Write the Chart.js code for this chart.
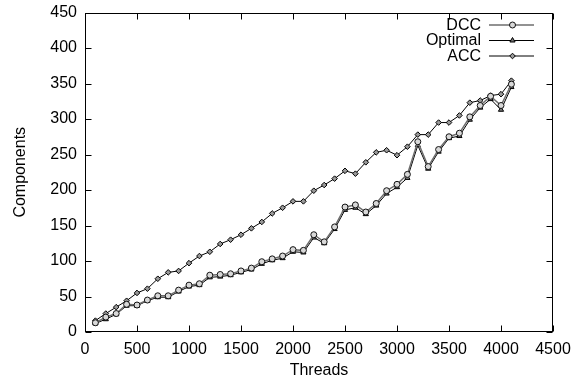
<!DOCTYPE html>
<html>
<head>
<meta charset="utf-8">
<script src="https://cdn.jsdelivr.net/npm/chart.js@4/dist/chart.umd.min.js"></script>
<style>
html,body{margin:0;padding:0;background:#fff;}
#c{display:block;}
</style>
</head>
<body>
<canvas id="c" width="587" height="384"></canvas>
<script>
const threads = [100,200,300,400,500,600,700,800,900,1000,1100,1200,1300,1400,1500,1600,1700,1800,1900,2000,2100,2200,2300,2400,2500,2600,2700,2800,2900,3000,3100,3200,3300,3400,3500,3600,3700,3800,3900,4000,4100];
const dccValues = [13,21,26,39,38,45,51,51,59,66,68,80,81,82,86,90,99,103,107,116,115,137,127,148,176,179,169,181,199,208,222,268,233,257,275,280,303,319,332,319,349];
const optimalValues = [12,18,25,37,37,44,49,49,57,64,66,77,78,80,84,88,96,101,104,113,112,133,125,145,172,175,166,178,195,204,217,263,230,254,273,276,299,316,328,313,345];
const accValues = [16,26,35,44,55,61,75,84,86,97,107,113,124,130,137,146,155,167,175,184,184,199,207,216,227,223,239,253,256,249,261,278,278,295,295,305,323,326,333,335,354];
const xTickValues = [0,500,1000,1500,2000,2500,3000,3500,4000,4500];
const yTickValues = [0,50,100,150,200,250,300,350,400,450];
const seriesNames = ['DCC','Optimal','ACC'];

const FONT = '"Liberation Sans", Arial, Helvetica, sans-serif';
const FS = 16;

function pts(vals){ return threads.map((t,i)=>({x:t,y:vals[i]})); }

const styles = [
  {line:'#6e6e6e', width:1.5, point:'circle', r:3, bg:'#d8d8d8', bd:'#111'},
  {line:'#000000', width:1, point:'triangle', r:3, bg:'#777777', bd:'#000'},
  {line:'#000000', width:1, point:'rectRot', r:2.8, bg:'#999999', bd:'#000'}
];
const allVals = [dccValues, optimalValues, accValues];
const legendRows = [24.5,40,55.5];

const frame = {
  id:'frame',
  afterDatasetsDraw(chart){
    const {ctx, chartArea:a, scales:{x,y}} = chart;
    ctx.save();
    ctx.strokeStyle='#000'; ctx.lineWidth=1;
    const L=Math.round(a.left)+0.5, R=Math.round(a.right)-0.5, T=Math.round(a.top)+0.5, B=Math.round(a.bottom)-0.5;
    ctx.strokeRect(L,T,R-L,B-T);
    ctx.beginPath();
    xTickValues.forEach(v=>{
      const p=Math.round(x.getPixelForValue(v))+0.5;
      ctx.moveTo(p,B); ctx.lineTo(p,B-6);
      ctx.moveTo(p,T); ctx.lineTo(p,T+6);
    });
    yTickValues.forEach(v=>{
      const p=Math.round(y.getPixelForValue(v))+0.5;
      ctx.moveTo(L,p); ctx.lineTo(L+6,p);
      ctx.moveTo(R,p); ctx.lineTo(R-6,p);
    });
    ctx.stroke();
    ctx.font = FS+'px '+FONT;
    ctx.textAlign='right'; ctx.textBaseline='middle'; ctx.fillStyle='#000';
    seriesNames.forEach((n,i)=>{
      const yy=legendRows[i], s=styles[i];
      ctx.fillStyle='#000';
      ctx.fillText(n,481,yy+1);
      ctx.strokeStyle=s.line; ctx.lineWidth=s.width;
      ctx.beginPath(); ctx.moveTo(489,yy+0.5); ctx.lineTo(534,yy+0.5); ctx.stroke();
      ctx.fillStyle=s.bg; ctx.strokeStyle=s.bd; ctx.lineWidth=1;
      Chart.helpers.drawPoint(ctx,{pointStyle:s.point,radius:s.r,rotation:0,borderWidth:1},512.5,yy+0.5);
    });
    ctx.restore();
  }
};

new Chart(document.getElementById('c'),{
  type:'line',
  data:{
    datasets: seriesNames.map((n,i)=>({
      label:n,
      data:pts(allVals[i]),
      borderColor:styles[i].line,
      borderWidth:styles[i].width,
      pointStyle:styles[i].point,
      pointRadius:styles[i].r,
      pointBackgroundColor:styles[i].bg,
      pointBorderColor:styles[i].bd,
      pointBorderWidth:1,
      tension:0,
      fill:false
    }))
  },
  options:{
    responsive:false,
    animation:false,
    devicePixelRatio:1,
    layout:{padding:{left:0,right:34,top:12.5,bottom:0}},
    plugins:{legend:{display:false},tooltip:{enabled:false}},
    scales:{
      x:{
        type:'linear', min:0, max:4500,
        afterBuildTicks(s){ s.ticks = xTickValues.map(v=>({value:v})); },
        afterFit(s){ s.height=52; s.paddingLeft=0; s.paddingRight=0; },
        grid:{display:false, drawTicks:false},
        border:{display:false},
        ticks:{color:'#000', font:{family:FONT,size:FS}, padding:8, maxRotation:0, autoSkip:false, callback:v=>String(v)},
        title:{display:true, text:'Threads', color:'#000', font:{family:FONT,size:FS}, padding:{top:0,bottom:4}}
      },
      y:{
        type:'linear', min:0, max:450,
        afterBuildTicks(s){ s.ticks = yTickValues.map(v=>({value:v})); },
        afterFit(s){ s.width=85; s.paddingTop=0; s.paddingBottom=0; },
        grid:{display:false, drawTicks:false},
        border:{display:false},
        ticks:{color:'#000', font:{family:FONT,size:FS}, padding:8, autoSkip:false, callback:v=>String(v)},
        title:{display:true, text:'Components', color:'#000', font:{family:FONT,size:FS}, padding:{top:11,bottom:0}}
      }
    }
  },
  plugins:[frame]
});
</script>
</body>
</html>
